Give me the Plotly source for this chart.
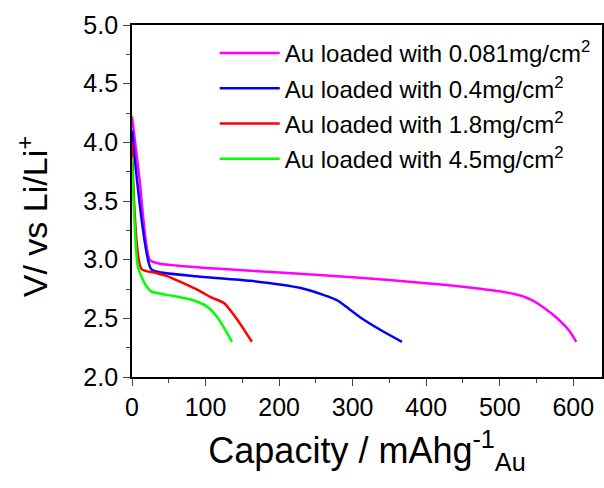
import plotly.graph_objects as go

# Capacity (mAh/g_Au) and voltage (V vs Li/Li+)
cap_0081 = [0, 10, 24, 35, 60, 100, 150, 228, 300, 400, 450, 500, 530, 545, 560, 580, 595, 604]
v_0081 = [4.22, 3.70, 3.00, 2.97, 2.95, 2.93, 2.91, 2.88, 2.85, 2.80, 2.77, 2.73, 2.69, 2.65, 2.59, 2.49, 2.39, 2.30]

cap_04 = [0, 26, 40, 93, 161, 228, 260, 280, 295, 310, 341, 367]
v_04 = [4.10, 2.92, 2.89, 2.855, 2.82, 2.76, 2.70, 2.65, 2.58, 2.51, 2.39, 2.30]

cap_18 = [0, 13, 30, 48, 66, 93, 107, 125, 143, 163]
v_18 = [4.00, 2.92, 2.89, 2.86, 2.81, 2.73, 2.68, 2.63, 2.49, 2.30]

cap_45 = [0, 3, 8, 17, 26, 48, 80, 102, 116, 127, 136]
v_45 = [3.87, 3.37, 2.94, 2.80, 2.73, 2.70, 2.66, 2.60, 2.51, 2.40, 2.30]

names = ["Au loaded with 0.081mg/cm<sup>2</sup>", "Au loaded with 0.4mg/cm<sup>2</sup>",
         "Au loaded with 1.8mg/cm<sup>2</sup>", "Au loaded with 4.5mg/cm<sup>2</sup>"]
colors = ["#ff00ff", "#0000ff", "#ff0000", "#00ff00"]
series = [(cap_0081, v_0081), (cap_04, v_04), (cap_18, v_18), (cap_45, v_45)]

fig = go.Figure()
for i, ((x, y), n, c) in enumerate(zip(series, names, colors)):
    fig.add_trace(go.Scatter(x=x, y=y, mode="lines", name=n, legendgroup=str(i),
                             line=dict(color=c, width=2.5, shape="spline", smoothing=0.6)))

font = "Arial, Liberation Sans, sans-serif"
fig.update_layout(
    width=604, height=488,
    margin=dict(l=132, r=0, t=25, b=111),
    paper_bgcolor="white", plot_bgcolor="white",
    font=dict(family=font, color="black"),
    showlegend=True,
    legend=dict(x=0.176, y=0.983, xanchor="left", yanchor="top",
                font=dict(size=24, family=font), tracegroupgap=1,
                bgcolor="rgba(0,0,0,0)", itemwidth=60),
    xaxis=dict(range=[0, 639], tickvals=[0, 100, 200, 300, 400, 500, 600],
               ticks="outside", ticklen=7, tickwidth=1.2, showline=True, linecolor="black",
               linewidth=1.8, mirror=True, showgrid=False, zeroline=False,
               tickfont=dict(size=25), minor=dict(tickvals=[50, 150, 250, 350, 450, 550],
                                                  ticks="outside", ticklen=4),
               title=dict(text="Capacity / mAhg<sup>-1</sup><sub>Au</sub>", font=dict(size=36), standoff=18)),
    yaxis=dict(range=[2.0, 5.0], tickvals=[2.0, 2.5, 3.0, 3.5, 4.0, 4.5, 5.0],
               ticktext=["2.0", "2.5", "3.0", "3.5", "4.0", "4.5", "5.0"],
               ticks="outside", ticklen=7, tickwidth=1.2, showline=True, linecolor="black",
               linewidth=1.8, mirror=True, showgrid=False, zeroline=False,
               tickfont=dict(size=25), minor=dict(tickvals=[2.25, 2.75, 3.25, 3.75, 4.25, 4.75],
                                                  ticks="outside", ticklen=4)),
    annotations=[dict(text="V/ vs Li/Li<sup>+</sup>", textangle=-90, showarrow=False,
                      xref="paper", yref="paper", x=-0.212, y=0.455, xanchor="center", yanchor="middle",
                      font=dict(size=34, family=font))],
)
fig.write_html("out.html")
